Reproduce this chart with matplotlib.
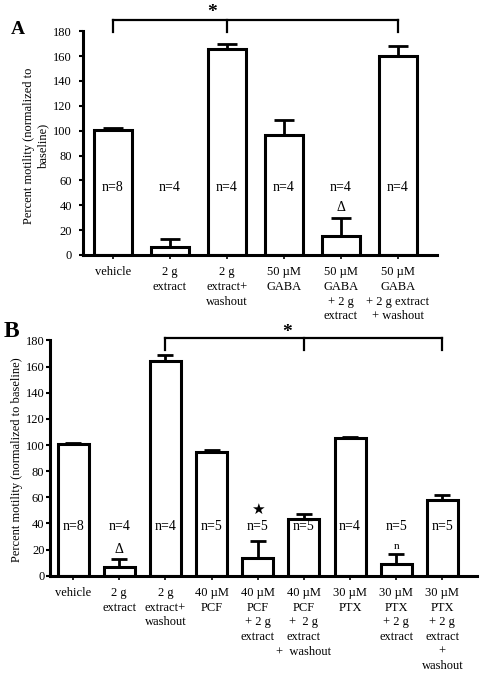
import numpy as np
import matplotlib
matplotlib.use('Agg')
import matplotlib.pyplot as plt

plt.rcParams['font.family'] = ['Liberation Serif', 'DejaVu Serif']

# Panel A data
labels_a = ['vehicle', '2 g\nextract', '2 g\nextract+\nwashout', '50 µM\nGABA',
            '50 µM\nGABA\n+ 2 g\nextract', '50 µM\nGABA\n+ 2 g extract\n+ washout']
vals_a = [100.5, 6.2, 165.5, 96.5, 15.3, 160]
errs_a = [1.5, 6.4, 4.2, 12.5, 14.5, 8]
n_a = ['n=8', 'n=4', 'n=4', 'n=4', 'n=4', 'n=4']

# Panel B data
labels_b = ['vehicle', '2 g\nextract', '2 g\nextract+\nwashout', '40 µM\nPCF',
            '40 µM\nPCF\n+ 2 g\nextract', '40 µM\nPCF\n+  2 g\nextract\n+  washout',
            '30 µM\nPTX', '30 µM\nPTX\n+ 2 g\nextract', '30 µM\nPTX\n+ 2 g\nextract\n+\nwashout']
vals_b = [100.5, 6.4, 164, 94.4, 13.5, 43.6, 105.4, 8.7, 57.7]
errs_b = [1.0, 6.1, 4.6, 1.5, 13, 3.6, 0.9, 8.1, 4.3]
n_b = ['n=8', 'n=4', 'n=4', 'n=5', 'n=5', 'n=5', 'n=4', 'n=5', 'n=5']

fig = plt.figure(figsize=(4.86, 6.78), dpi=100)
ax_a = fig.add_axes([0.1708, 0.6239, 0.728, 0.330])
ax_b = fig.add_axes([0.1029, 0.1509, 0.8786, 0.3469])


def draw_panel(ax, labels, vals, errs, nlab, n_y, xlim, capsize, ypad):
    x = np.arange(len(vals))
    ax.bar(x, vals, width=0.67, color='white', edgecolor='black', linewidth=2.2, zorder=2)
    ax.errorbar(x, vals, yerr=[np.zeros(len(errs)), errs], fmt='none', ecolor='black',
                elinewidth=2, capsize=capsize, capthick=2, zorder=3)
    for xi, t in zip(x, nlab):
        ax.text(xi, n_y, t, ha='center', va='center', fontsize=10, zorder=4)
    ax.set_xlim(*xlim)
    ax.set_ylim(0, 180)
    ax.set_yticks(range(0, 181, 20))
    ax.set_xticks(x)
    ax.set_xticklabels(labels, fontsize=9, linespacing=1.3)
    for s in ['top', 'right']:
        ax.spines[s].set_visible(False)
    for s in ['left', 'bottom']:
        ax.spines[s].set_linewidth(2.2)
    ax.tick_params(axis='y', direction='out', length=3, width=1.5, labelsize=9, pad=ypad)
    ax.tick_params(axis='x', direction='out', length=3, width=1.2, pad=5)


draw_panel(ax_a, labels_a, vals_a, errs_a, n_a, 54, (-0.52, 5.68), 7.5, 5)
draw_panel(ax_b, labels_b, vals_b, errs_b, n_b, 38, (-0.5, 8.75), 5.8, 1)

# significance brackets
def bracket(ax, xs, y_top, y_bot, star_x, star_y):
    ax.plot([xs[0], xs[-1]], [y_top, y_top], color='black', lw=1.6, clip_on=False)
    for xi in xs:
        ax.plot([xi, xi], [y_top, y_bot], color='black', lw=1.6, clip_on=False)
    ax.text(star_x, star_y, '*', ha='center', va='center', fontsize=14,
            fontweight='bold', clip_on=False)

bracket(ax_a, [0, 2, 5], 189, 179, 1.74, 195)
bracket(ax_b, [2, 5, 8], 182, 172.7, 4.63, 186)

# annotations
ax_a.text(4, 38, 'Δ', ha='center', va='center', fontsize=10)
ax_b.text(1, 20, 'Δ', ha='center', va='center', fontsize=10)
ax_b.text(4, 51, '★', ha='center', va='center', fontsize=11, family=['DejaVu Sans'])
ax_b.text(7, 22, 'n', ha='center', va='center', fontsize=8)

# axis titles
fig.text(0.074, 0.785, 'Percent motility (normalized to\nbaseline)', rotation=90,
         ha='center', va='center', fontsize=9, linespacing=1.2)
fig.text(0.036, 0.3215, 'Percent motility (normalized to baseline)', rotation=90,
         ha='center', va='center', fontsize=9)

# panel letters
fig.text(18 / 486, 1 - 29 / 678, 'A', ha='center', va='center', fontsize=14, fontweight='bold')
fig.text(11 / 486, 1 - 331 / 678, 'B', ha='center', va='center', fontsize=17, fontweight='bold')

fig.savefig('out.png', dpi=100)
